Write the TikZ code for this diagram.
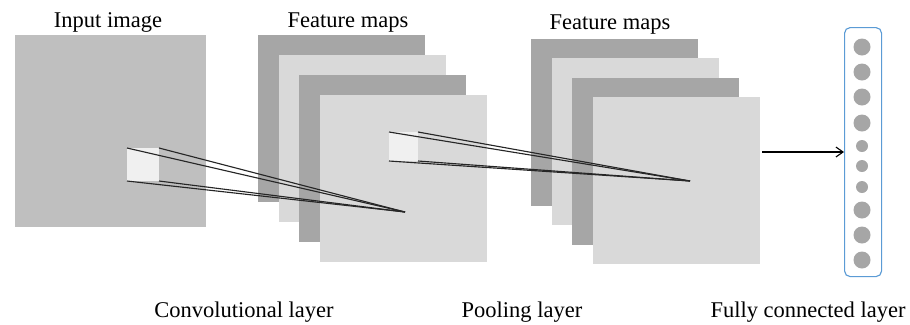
\documentclass[tikz,border=0pt]{standalone}
\usepackage{fontspec}
\setmainfont{Liberation Serif}
\usetikzlibrary{arrows.meta,positioning}
\definecolor{ImgGrey}{HTML}{BFBFBF}
\definecolor{MapDark}{HTML}{A6A6A6}
\definecolor{MapLight}{HTML}{D9D9D9}
\definecolor{PatchWhite}{HTML}{F0F0F0}
\definecolor{FcBlue}{HTML}{5B9BD5}
\tikzset{
  % flat square sheet (feature map / image)
  sheet/.style={
    rectangle, fill=#1, inner sep=0pt, outer sep=0pt,
    minimum width=4.175cm, minimum height=4.175cm, anchor=north west
  },
  % receptive field patch
  patch/.style={
    rectangle, fill=PatchWhite, inner sep=0pt, outer sep=0pt, anchor=north west
  },
  % projection line from patch to target unit
  proj/.style={line width=0.8pt, color=black!85},
  % neuron of the dense layer
  unit/.style={circle, fill=MapDark, inner sep=0pt, minimum size=#1},
  % caption text
  caption/.style={font=\fontsize{16}{18}\selectfont, anchor=base, inner sep=0pt}
}
\begin{document}
\begin{tikzpicture}[x=0.025cm,y=-0.025cm]
  \useasboundingbox (0,0) rectangle (910,324);

  % input image
  \node[sheet=ImgGrey, minimum width=4.775cm, minimum height=4.8cm] (inimg) at (15,35) {};
  \node[caption] (intitle) at (108,27) {Input image};

  % convolution feature maps
  \node[sheet=MapDark]  (cmapA) at (258,35) {};
  \node[sheet=MapLight] (cmapB) at (279,55) {};
  \node[sheet=MapDark]  (cmapC) at (299,75) {};
  \node[sheet=MapLight] (cmapD) at (320,95) {};
  \node[caption] (ctitle) at (348,27) {Feature maps};

  % pooling feature maps
  \node[sheet=MapDark]  (pmapA) at (531,39) {};
  \node[sheet=MapLight] (pmapB) at (552,58) {};
  \node[sheet=MapDark]  (pmapC) at (572,78) {};
  \node[sheet=MapLight] (pmapD) at (593,97) {};
  \node[caption] (ptitle) at (610,29) {Feature maps};

  % receptive fields and where they land
  \node[patch, minimum width=0.8cm, minimum height=0.825cm] (cpatch) at (127,148) {};
  \node[patch, minimum width=0.725cm, minimum height=0.725cm] (ppatch) at (389,132) {};
  \coordinate (capex) at (405,212);
  \coordinate (papex) at (690,181);

  \foreach \c in {north west,north east,south west,south east}{
    \draw[proj] (cpatch.\c) -- (capex);
    \draw[proj] (ppatch.\c) -- (papex);
  }

  % fully connected layer
  \node[draw=FcBlue, line width=0.8pt, rounded corners=4pt, inner sep=0pt,
        minimum width=0.925cm, minimum height=6.225cm, anchor=north west] (fcbox) at (844,27) {};
  \foreach \yy/\d [count=\i] in {47/0.425cm,72/0.425cm,97/0.425cm,123/0.425cm,146/0.3cm,
                                 166/0.3cm,187/0.3cm,210/0.425cm,235/0.425cm,260/0.425cm}{
    \node[unit=\d] (n\i) at (862,\yy) {};
  }
  \coordinate (fcin) at (762,152);
  \draw[-{Straight Barb[length=5pt,width=7pt]}, line width=0.8pt] (fcin) -- (fcin -| fcbox.west);

  % layer names
  \node[caption] (clabel) at (244,317) {Convolutional layer};
  \node[caption] (plabel) at (522,317) {Pooling layer};
  \node[caption] (flabel) at (808,317) {Fully connected layer};
\end{tikzpicture}
\end{document}
